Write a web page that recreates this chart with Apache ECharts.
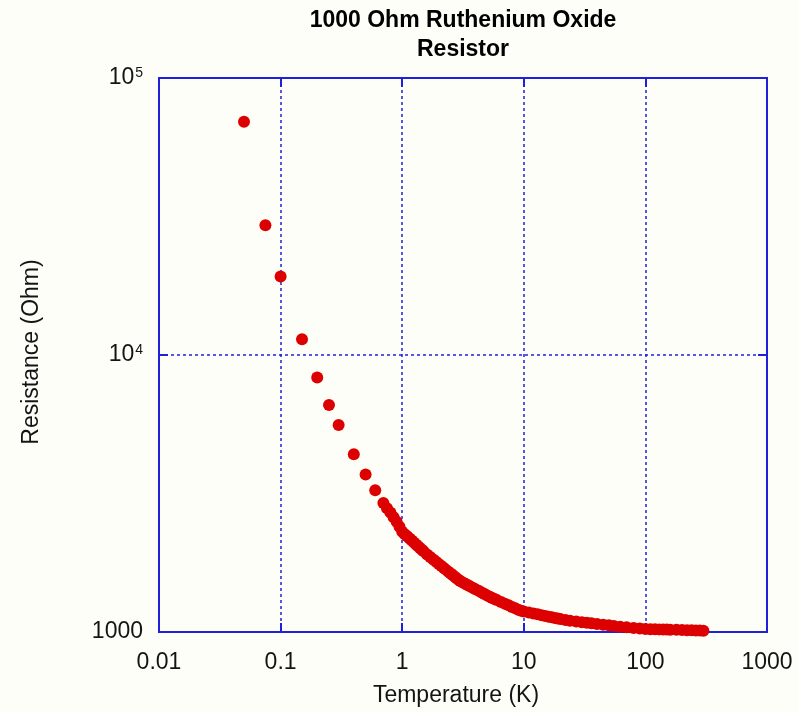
<!DOCTYPE html>
<html>
<head>
<meta charset="utf-8">
<title>1000 Ohm Ruthenium Oxide Resistor</title>
<script src="https://cdn.jsdelivr.net/npm/echarts@6/dist/echarts.min.js"></script>
<style>
  html, body { margin: 0; padding: 0; background: #fefef8; }
  #chart { width: 799px; height: 712px; }
</style>
</head>
<body>
<div id="chart"></div>
<script>
// values (K, Ohm)
const temperature = [
  0.05, 0.075, 0.1, 0.15, 0.2, 0.25, 0.3, 0.4, 0.5, 0.6, 0.7, 0.75, 0.8, 0.85, 0.9, 0.95,
  1.0, 1.05, 1.1, 1.15, 1.2, 1.25, 1.3, 1.35, 1.4, 1.45, 1.5, 1.6, 1.7, 1.8, 1.9,
  2.0, 2.1, 2.2, 2.3, 2.4, 2.5, 2.6, 2.7, 2.8, 2.9, 3.0, 3.15,
  3.3, 3.45, 3.6, 3.8, 4.0, 4.25, 4.5, 4.75, 5.0, 5.25, 5.5, 5.75, 6.0, 6.5, 7.0, 7.5, 8.0, 8.5, 9.0, 9.5,
  10, 11, 12, 13, 14, 15, 16, 17, 18, 19, 20, 22, 24, 27, 30, 33, 36, 40, 45,
  50, 55, 62, 70, 80, 90, 100, 110, 120, 130, 140, 150, 160, 180, 200, 220, 240,
  260, 280, 300
];
const resistance = [
  69500, 29400, 19200, 11400, 8300, 6600, 5590, 4380, 3700, 3250, 2920, 2800, 2700, 2595, 2500, 2400,
  2300, 2255, 2215, 2175, 2140, 2105, 2070, 2040, 2010, 1982, 1955, 1905, 1865, 1827, 1793,
  1761, 1730, 1702, 1676, 1651, 1627, 1605, 1584, 1564, 1545, 1527, 1510,
  1493, 1478, 1463, 1445, 1428, 1408, 1389, 1372, 1355, 1341, 1327, 1315, 1304, 1284, 1265, 1248, 1232, 1218, 1204, 1194,
  1185, 1175, 1166, 1158, 1150, 1143, 1136, 1130, 1124, 1118, 1113, 1104, 1098, 1091, 1085, 1080, 1075, 1069, 1063,
  1057, 1052, 1045, 1040, 1034, 1029, 1025, 1024, 1023, 1022, 1021, 1020, 1019, 1018, 1016, 1015, 1014,
  1013, 1012, 1011
];
const xTickLabels = ['0.01', '0.1', '1', '10', '100', '1000'];
const yTickLabels = ['1000', '10^4', '10^5'];

const blue = '#2020dc';
const textColor = '#141414';
const font = '"Liberation Sans", Arial, sans-serif';

const points = temperature.map((t, i) => [t, resistance[i]]);

const gridStyle = { color: blue, width: 1.5, type: [3, 3] };

function xLabel(v) {
  return xTickLabels[Math.round(Math.log10(v)) + 2] || '';
}

function yLabel(v) {
  const s = yTickLabels[Math.round(Math.log10(v)) - 3] || '';
  const parts = s.split('^');
  return parts.length > 1 ? '{b|' + parts[0] + '}{s|' + parts[1] + '}' : '{b|' + s + '}';
}

const chart = echarts.init(document.getElementById('chart'));

chart.setOption({
  backgroundColor: '#fefef8',
  animation: false,
  title: {
    text: '1000 Ohm Ruthenium Oxide\nResistor',
    left: 458,
    top: 1,
    textAlign: 'center',
    textStyle: {
      fontFamily: font,
      fontWeight: 'bold',
      fontSize: 23,
      lineHeight: 29,
      color: '#000'
    }
  },
  grid: {
    left: 159,
    right: 32,
    top: 78,
    bottom: 80,
    show: true,
    borderColor: blue,
    borderWidth: 2
  },
  xAxis: [
    {
      type: 'log',
      logBase: 10,
      min: 0.01,
      max: 1000,
      name: 'Temperature (K)',
      nameLocation: 'middle',
      nameGap: 52,
      nameTextStyle: { fontFamily: font, fontSize: 23, color: textColor, padding: [0, 14, 0, 0] },
      axisLine: { show: true, lineStyle: { color: blue, width: 2 } },
      axisTick: { show: true, inside: true, length: 9, lineStyle: { color: blue, width: 2 } },
      minorTick: { show: false },
      axisLabel: { formatter: xLabel, margin: 19, fontFamily: font, fontSize: 23, color: textColor },
      splitLine: { show: true, lineStyle: gridStyle }
    },
    {
      type: 'log',
      logBase: 10,
      min: 0.01,
      max: 1000,
      position: 'top',
      axisLine: { show: false },
      axisTick: { show: true, inside: true, length: 9, lineStyle: { color: blue, width: 2 } },
      axisLabel: { show: false },
      splitLine: { show: false }
    }
  ],
  yAxis: [
    {
      type: 'log',
      logBase: 10,
      min: 1000,
      max: 100000,
      name: 'Resistance (Ohm)',
      nameLocation: 'middle',
      nameGap: 116,
      nameTextStyle: { fontFamily: font, fontSize: 23, color: textColor, padding: [0, 0, 0, 6] },
      axisLine: { show: true, lineStyle: { color: blue, width: 2 } },
      axisTick: { show: true, inside: true, length: 9, lineStyle: { color: blue, width: 2 } },
      axisLabel: {
        formatter: yLabel,
        margin: 16,
        rich: {
          b: { fontFamily: font, fontSize: 23, color: textColor, lineHeight: 24 },
          s: { fontFamily: font, fontSize: 14, color: textColor, verticalAlign: 'top', lineHeight: 12, padding: [0, 0, 0, 1] }
        }
      },
      splitLine: { show: true, lineStyle: gridStyle }
    },
    {
      type: 'log',
      logBase: 10,
      min: 1000,
      max: 100000,
      position: 'right',
      axisLine: { show: false },
      axisTick: { show: true, inside: true, length: 9, lineStyle: { color: blue, width: 2 } },
      axisLabel: { show: false },
      splitLine: { show: false }
    }
  ],
  series: [
    {
      type: 'scatter',
      data: points,
      symbol: 'circle',
      symbolSize: 12,
      itemStyle: { color: '#dd0000', opacity: 1 }
    }
  ]
});
</script>
</body>
</html>
